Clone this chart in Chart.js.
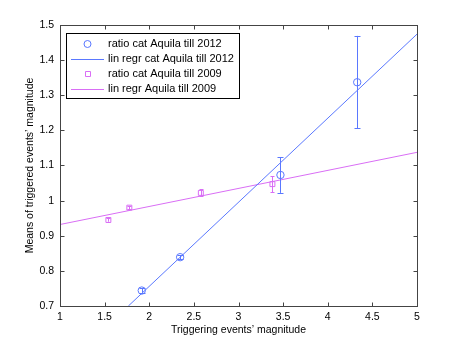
<!DOCTYPE html>
<html>
<head>
<meta charset="utf-8">
<script src="https://cdn.jsdelivr.net/npm/chart.js@4.4.0/dist/chart.umd.min.js"></script>
<style>
  html, body { margin: 0; padding: 0; background: #fff; }
  #wrap { width: 460px; height: 346px; }
</style>
</head>
<body>
<div id="wrap"><canvas id="magChart" width="460" height="346"></canvas></div>
<script>
// gemeten waarden: catalogus tot 2012 (blauw)
var mag2012 = [1.916, 2.346, 3.47, 4.33];
var ratio2012 = [0.744, 0.839, 1.073, 1.337];
var lo2012 = [0.738, 0.833, 1.022, 1.206];
var hi2012 = [0.750, 0.845, 1.123, 1.469];

// catalogus tot 2009 (magenta)
var mag2009 = [1.542, 1.777, 2.578, 3.38];
var ratio2009 = [0.945, 0.980, 1.022, 1.047];
var lo2009 = [0.940, 0.975, 1.012, 1.024];
var hi2009 = [0.950, 0.985, 1.032, 1.070];

// regressielijnen (eindpunten)
var regX2012 = [1.766, 5];
var regY2012 = [0.7, 1.474];
var regX2009 = [1, 5];
var regY2009 = [0.932, 1.1375];

var xTicks = [1, 1.5, 2, 2.5, 3, 3.5, 4, 4.5, 5];
var yTicks = [0.7, 0.8, 0.9, 1, 1.1, 1.2, 1.3, 1.4, 1.5];

var legendLabels = ['ratio cat Aquila till 2012', 'lin regr cat Aquila till 2012',
                    'ratio cat Aquila till 2009', 'lin regr Aquila till 2009'];

var BLUE = '#5a78ff';
var PINK = '#d96ef5';
var FONT = '"Liberation Sans", Arial, Helvetica, sans-serif';

function pts(xs, ys) {
    return xs.map(function (x, i) { return { x: x, y: ys[i] }; });
}

function fmt(v) {
    return String(+Number(v).toFixed(2));
}

// foutbalken tekenen
var errorBars = {
    id: 'errorBars',
    afterDatasetsDraw: function (chart) {
        var ctx = chart.ctx, xs = chart.scales.x, ys = chart.scales.y;
        chart.data.datasets.forEach(function (ds) {
            if (!ds.errLo) return;
            ctx.save();
            ctx.strokeStyle = ds.borderColor;
            ctx.lineWidth = 1;
            ds.data.forEach(function (p, i) {
                var px = Math.round(xs.getPixelForValue(p.x)) + 0.5;
                var y1 = ys.getPixelForValue(ds.errLo[i]);
                var y2 = ys.getPixelForValue(ds.errHi[i]);
                var c = ds.capHalf;
                ctx.beginPath();
                ctx.moveTo(px, y1); ctx.lineTo(px, y2);
                ctx.moveTo(px - c, Math.round(y1) + 0.5); ctx.lineTo(px + c, Math.round(y1) + 0.5);
                ctx.moveTo(px - c, Math.round(y2) + 0.5); ctx.lineTo(px + c, Math.round(y2) + 0.5);
                ctx.stroke();
            });
            ctx.restore();
        });
    }
};

// kader met naar binnen gerichte streepjes (MATLAB stijl)
var boxAxes = {
    id: 'boxAxes',
    afterDatasetsDraw: function (chart) {
        var ctx = chart.ctx, a = chart.chartArea, xs = chart.scales.x, ys = chart.scales.y;
        var L = Math.round(a.left) + 0.5, R = Math.round(a.right) + 0.5;
        var T = Math.round(a.top) + 0.5, B = Math.round(a.bottom) + 0.5;
        ctx.save();
        ctx.strokeStyle = '#444';
        ctx.lineWidth = 1;
        ctx.strokeRect(L, T, R - L, B - T);
        ctx.beginPath();
        xTicks.forEach(function (v) {
            var px = Math.round(xs.getPixelForValue(v)) + 0.5;
            ctx.moveTo(px, B); ctx.lineTo(px, B - 4);
            ctx.moveTo(px, T); ctx.lineTo(px, T + 4);
        });
        yTicks.forEach(function (v) {
            var py = Math.round(ys.getPixelForValue(v)) + 0.5;
            ctx.moveTo(L, py); ctx.lineTo(L + 4, py);
            ctx.moveTo(R, py); ctx.lineTo(R - 4, py);
        });
        ctx.stroke();
        ctx.restore();
    }
};

// legenda binnen het plotgebied, linksboven
var boxLegend = {
    id: 'boxLegend',
    afterDraw: function (chart) {
        var ctx = chart.ctx, a = chart.chartArea;
        var bx = Math.round(a.left) + 6.5, by = Math.round(a.top) + 8.5;
        var bw = 173, bh = 65;
        ctx.save();
        ctx.fillStyle = '#fff';
        ctx.fillRect(bx, by, bw, bh);
        ctx.strokeStyle = '#000';
        ctx.lineWidth = 1;
        ctx.strokeRect(bx, by, bw, bh);
        ctx.font = '11px ' + FONT;
        ctx.textBaseline = 'middle';
        ctx.textAlign = 'left';
        var rows = [44, 59, 73.5, 88.5];
        var colors = [BLUE, BLUE, PINK, PINK];
        rows.forEach(function (cy, i) {
            ctx.beginPath();
            ctx.strokeStyle = colors[i];
            if (i === 0) {
                ctx.arc(87.5, cy, 3.5, 0, Math.PI * 2);
            } else if (i === 2) {
                ctx.rect(85.5, Math.round(cy) - 2.5, 5, 5);
            } else {
                ctx.moveTo(71, Math.round(cy) + 0.5);
                ctx.lineTo(104, Math.round(cy) + 0.5);
            }
            ctx.stroke();
            ctx.fillStyle = '#000';
            ctx.fillText(legendLabels[i], 108, cy);
        });
        ctx.restore();
    }
};

var ctx = document.getElementById('magChart').getContext('2d');

new Chart(ctx, {
    type: 'scatter',
    data: {
        datasets: [
            {
                label: legendLabels[0],
                data: pts(mag2012, ratio2012),
                errLo: lo2012, errHi: hi2012, capHalf: 3,
                showLine: false,
                pointStyle: 'circle',
                pointRadius: 3.7,
                borderColor: BLUE,
                backgroundColor: 'rgba(0,0,0,0)',
                borderWidth: 1
            },
            {
                label: legendLabels[1],
                data: pts(regX2012, regY2012),
                showLine: true,
                pointRadius: 0,
                borderColor: BLUE,
                borderWidth: 1
            },
            {
                label: legendLabels[2],
                data: pts(mag2009, ratio2009),
                errLo: lo2009, errHi: hi2009, capHalf: 2,
                showLine: false,
                pointStyle: 'rect',
                pointRadius: 3.5,
                borderColor: PINK,
                backgroundColor: 'rgba(0,0,0,0)',
                borderWidth: 1
            },
            {
                label: legendLabels[3],
                data: pts(regX2009, regY2009),
                showLine: true,
                pointRadius: 0,
                borderColor: PINK,
                borderWidth: 1
            }
        ]
    },
    options: {
        responsive: false,
        animation: false,
        devicePixelRatio: 1,
        layout: { padding: { left: 24, right: 43, top: 25, bottom: 10 } },
        plugins: {
            legend: { display: false },
            tooltip: { enabled: false }
        },
        scales: {
            x: {
                type: 'linear',
                min: 1, max: 5,
                afterFit: function (s) { s.height = 30; },
                afterBuildTicks: function (s) { s.ticks = xTicks.map(function (v) { return { value: v }; }); },
                grid: { display: false, drawTicks: false, tickLength: 0 },
                border: { display: false },
                ticks: { color: '#000', padding: 5, font: { family: FONT, size: 10.5 }, callback: fmt },
                title: {
                    display: true,
                    text: 'Triggering events\u2019 magnitude',
                    color: '#000',
                    padding: 0,
                    font: { family: FONT, size: 10.5 }
                }
            },
            y: {
                type: 'linear',
                min: 0.7, max: 1.5,
                afterFit: function (s) { s.width = 36; },
                afterBuildTicks: function (s) { s.ticks = yTicks.map(function (v) { return { value: v }; }); },
                grid: { display: false, drawTicks: false, tickLength: 0 },
                border: { display: false },
                ticks: { color: '#000', padding: 6, font: { family: FONT, size: 10.5 }, callback: fmt },
                title: {
                    display: true,
                    text: 'Means of triggered events\u2019 magnitude',
                    color: '#000',
                    padding: 0,
                    font: { family: FONT, size: 10.5 }
                }
            }
        }
    },
    plugins: [errorBars, boxAxes, boxLegend]
});
</script>
</body>
</html>
